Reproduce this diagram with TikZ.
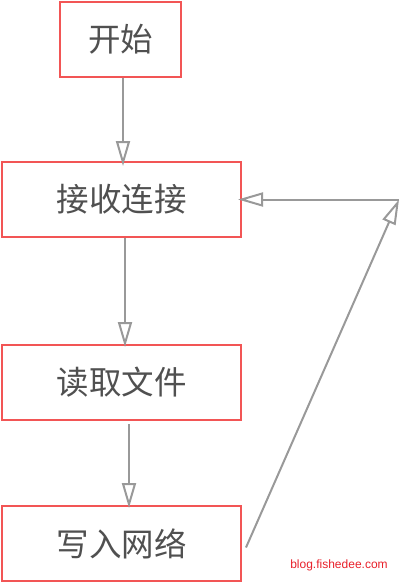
\documentclass[tikz,border=0pt]{standalone}
\usepackage{fontspec}
\usepackage{tikz}
\usepackage{xcolor}
\usetikzlibrary{arrows.meta,positioning}
\setmainfont{Liberation Sans}
\newfontfamily\cjk{Noto Sans CJK SC}
\definecolor{Frame}{HTML}{F25555}
\definecolor{Wire}{HTML}{999999}
\definecolor{Ink}{HTML}{505050}
\definecolor{Mark}{HTML}{E8202A}
\tikzset{
  stepbox/.style={
    draw=Frame,line width=2pt,fill=white,inner sep=0pt,
    minimum height=75pt,font=\cjk\fontsize{32.5}{32.5}\selectfont,text=Ink
  },
  wide/.style={stepbox,minimum width=239pt},
  flow/.style={-{Triangle[open,length=25pt,width=14pt]},line width=2pt,draw=Wire}
}
\begin{document}
\begin{tikzpicture}[x=1pt,y=-1pt]
  \useasboundingbox (0,0) rectangle (400,583);
  \node[stepbox,minimum width=121pt] (start) at (120.5,39.5) {开始};
  \node[wide] (accept) at (121.5,199.5) {接收连接};
  \node[wide] (readfile) at (121.5,382.5) {读取文件};
  \node[wide] (writenet) at (121.5,543.5) {写入网络};
  \coordinate (corner) at (399,199.5);
  \draw[flow] ([xshift=2.5pt]start.south) -- ([xshift=1.5pt,yshift=-5pt]accept.north);
  \draw[flow] ([xshift=3.5pt]accept.south) -- ([xshift=3.5pt,yshift=-3pt]readfile.north);
  \draw[flow,shorten <=3pt] ([xshift=7.5pt]readfile.south) -- ([xshift=7.5pt,yshift=-3pt]writenet.north);
  \draw[flow] ([xshift=4pt,yshift=-4pt]writenet.east) -- (corner);
  \draw[flow] (corner) -- ([xshift=-4pt]accept.east);
  \node[font=\fontsize{12}{12}\selectfont,text=Mark] (site) at (339,565) {blog.fishedee.com};
\end{tikzpicture}
\end{document}
